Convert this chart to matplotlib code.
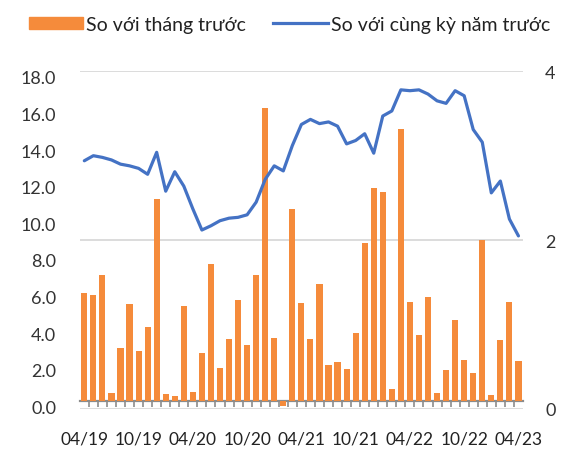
import numpy as np
import matplotlib as mpl
import matplotlib.pyplot as plt
from matplotlib.transforms import ScaledTranslation

plt.rcParams["font.family"] = ["Lato", "DejaVu Sans"]

# so voi thang truoc (left axis), 04/2019 -> 04/2023
mom = [5.9, 5.8, 6.9, 0.45, 2.9, 5.3, 2.7, 4.05, 11.0, 0.4, 0.25, 5.2,
       0.5, 2.6, 7.45, 1.8, 3.4, 5.5, 3.05, 6.9, 16.0, 3.45, -0.3, 10.5,
       5.35, 3.4, 6.4, 1.95, 2.15, 1.75, 3.7, 8.6, 11.6, 11.4, 0.65, 14.85,
       5.4, 3.6, 5.65, 0.45, 1.7, 4.4, 2.25, 1.5, 8.8, 0.35, 3.35, 5.4, 2.2]
# so voi cung ky nam truoc (right axis)
yoy = [2.94, 3.00, 2.98, 2.95, 2.90, 2.88, 2.85, 2.78, 3.04, 2.58, 2.81,
       2.64, 2.37, 2.12, 2.17, 2.23, 2.26, 2.27, 2.30, 2.45, 2.72, 2.88,
       2.82, 3.12, 3.37, 3.43, 3.38, 3.40, 3.35, 3.14, 3.18, 3.26, 3.03,
       3.47, 3.53, 3.78, 3.77, 3.78, 3.73, 3.65, 3.62, 3.77, 3.71, 3.31,
       3.16, 2.56, 2.70, 2.25, 2.05]
xlabels = ["04/19", "10/19", "04/20", "10/20", "04/21",
           "10/21", "04/22", "10/22", "04/23"]

ORANGE = "#F58B3B"
BLUE = "#4472C4"
TXT = "#333333"

x = np.arange(len(mom))

fig = plt.figure(figsize=(5.88, 4.56), dpi=100)
rect = [0.1357, 0.1009, 0.7537, 0.7406]

# back layer: right axis with gridlines and labels
axg = fig.add_axes(rect)
axg.set_xlim(-0.5, len(mom) - 0.5)
axg.set_ylim(0, 4)
axg.set_yticks([0, 2, 4])
axg.yaxis.tick_right()
axg.grid(axis="y", color="#D9D9D9", lw=1.3)
axg.set_xticks([])
axg.tick_params(axis="y", length=0, pad=16, labelsize=13, labelcolor=TXT)
for s in axg.spines.values():
    s.set_visible(False)

# middle layer: bars on the left axis
ax = fig.add_axes(rect)
ax.patch.set_visible(False)
ax.bar(x, mom, width=0.68, color=ORANGE, zorder=2)
ax.set_xlim(-0.5, len(mom) - 0.5)
ax.set_ylim(-0.44, 18)
ax.set_yticks(np.arange(0, 18.1, 2))
ax.set_yticklabels([f"{v:.1f}" for v in np.arange(0, 18.1, 2)])
ax.tick_params(axis="y", length=0, pad=17, labelsize=13, labelcolor=TXT)
for lab in ax.get_yticklabels():
    lab.set_transform(lab.get_transform()
                      + ScaledTranslation(0, -4 / 72, fig.dpi_scale_trans))
for k in ["left", "right", "top"]:
    ax.spines[k].set_visible(False)
ax.spines["bottom"].set_position(("data", 0))
ax.spines["bottom"].set_color("#8C8C8C")
ax.spines["bottom"].set_linewidth(1.6)
ax.spines["bottom"].set_zorder(1)
ax.set_xticks(x[::6])
ax.set_xticklabels(xlabels)
ax.set_xticks(x[:-1] + 0.5, minor=True)
ax.tick_params(axis="x", which="major", length=0, pad=21, labelsize=12.5,
               labelcolor="#222222")
ax.tick_params(axis="x", which="minor", length=4, width=1.2,
               color="#8C8C8C", direction="out")

# top layer: year-on-year line
axl = fig.add_axes(rect)
axl.patch.set_visible(False)
axl.plot(x, yoy, color=BLUE, lw=2.3, solid_joinstyle="round",
         solid_capstyle="round")
axl.set_xlim(-0.5, len(mom) - 0.5)
axl.set_ylim(0, 4)
axl.axis("off")

handles = [mpl.patches.Patch(color=ORANGE),
           mpl.lines.Line2D([], [], color=BLUE, lw=2.3)]
fig.legend(handles, ["So với tháng trước", "So với cùng kỳ năm trước"],
           loc="center", bbox_to_anchor=(0.492, 0.945), ncol=2,
           frameon=False, fontsize=14, handlelength=2.8,
           handletextpad=0.15, columnspacing=1.4, handleheight=0.6,
           labelcolor="#222222")

fig.savefig("out.png", dpi=100)
